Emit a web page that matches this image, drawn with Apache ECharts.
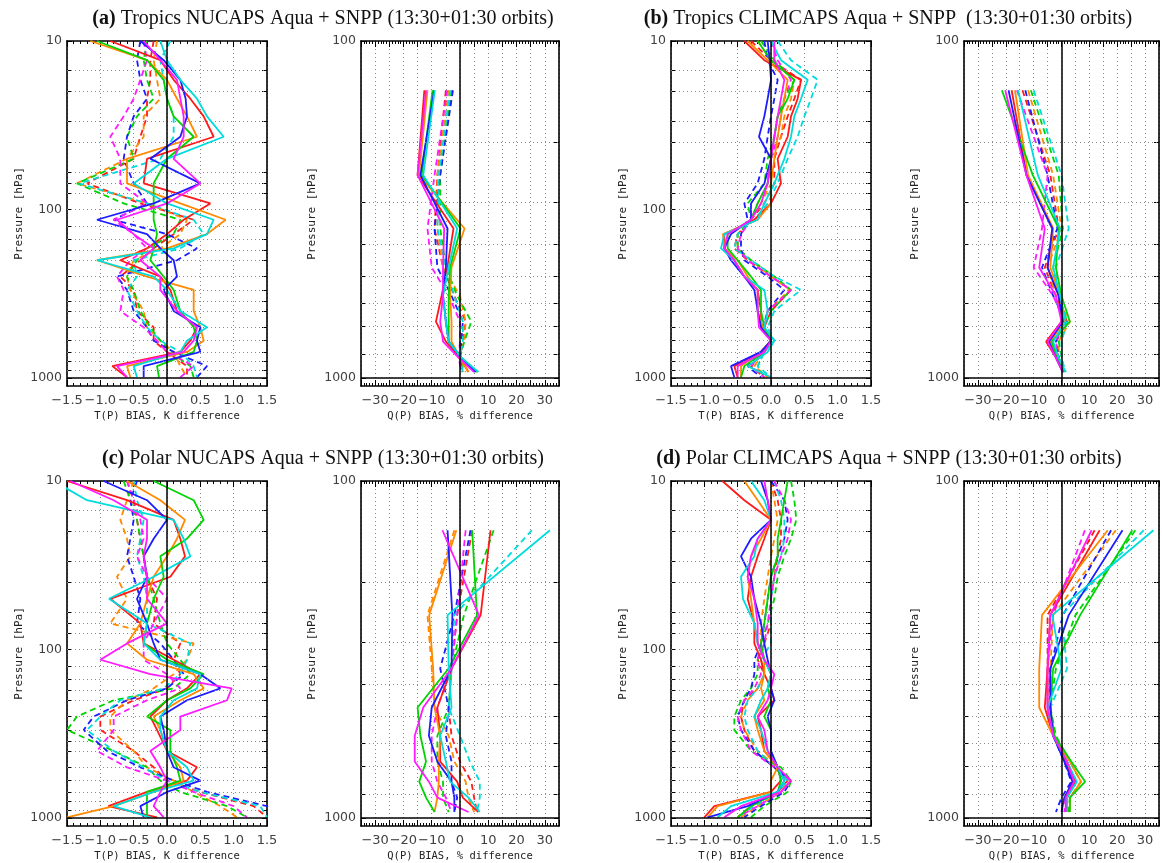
<!DOCTYPE html>
<html><head><meta charset="utf-8">
<script src="https://cdn.jsdelivr.net/npm/echarts@6/dist/echarts.min.js"></script>
<style>html,body{margin:0;padding:0;background:#fff}#c{width:1162px;height:863px}</style>
</head><body><div id="c"></div>
<script>
// ---------- pressure levels (hPa) ----------
const T_LEVELS = [10, 13, 17, 22, 28, 37, 50, 70, 92, 115, 140, 170, 200, 250, 300, 400, 500, 600, 700, 850, 990];
const Q_LEVELS = [140, 250, 360, 470, 570, 680, 780, 870, 960];
const T_GRID_LEVELS = [15, 20, 30, 40, 60, 70, 80, 100, 125, 150, 175, 200, 250, 300, 350, 400, 500, 600, 700, 800, 900];
const Q_GRID_LEVELS = [200, 300, 400, 500, 600, 700, 850];
const T_DECADES = [10, 100, 1000];
const Q_DECADES = [100, 1000];

const TITLES = [
  ['(a)', ' Tropics NUCAPS Aqua + SNPP (13:30+01:30 orbits)'],
  ['(b)', ' Tropics CLIMCAPS Aqua + SNPP  (13:30+01:30 orbits)'],
  ['(c)', ' Polar NUCAPS Aqua + SNPP (13:30+01:30 orbits)'],
  ['(d)', ' Polar CLIMCAPS Aqua + SNPP (13:30+01:30 orbits)']
];

// ---------- (a) Tropics NUCAPS : T bias (K) ----------
const aT_red     = [-0.85, -0.1, 0.1, 0.35, 0.55, 0.7, -0.3, -0.35, 0.65, 0.25, 0.0, -0.3, -0.7, -0.1, 0.05, 0.15, 0.45, 0.35, 0.2, -0.82, -0.6];
const aT_orange  = [-1.15, -0.3, 0.0, 0.15, 0.3, 0.45, -0.6, -0.6, 0.2, 0.88, 0.6, 0.0, -1.05, -0.3, 0.4, 0.4, 0.5, 0.55, 0.3, -0.6, -0.55];
const aT_green   = [-1.05, -0.3, -0.05, 0.0, 0.1, 0.4, 0.0, -0.2, -0.2, -0.2, -0.15, -0.2, -0.25, -0.05, 0.1, 0.2, 0.4, 0.45, 0.4, -0.15, -0.12];
const aT_blue    = [-0.4, -0.05, 0.2, 0.28, 0.3, 0.2, -0.25, 0.5, -0.2, -1.05, -0.3, -0.1, 0.1, 0.15, -0.05, 0.1, 0.5, 0.45, 0.5, -0.35, -0.35];
const aT_cyan    = [-0.1, 0.0, 0.2, 0.45, 0.6, 0.85, 0.0, -0.5, 0.0, 0.7, 0.6, 0.1, -1.05, -0.2, 0.0, 0.2, 0.6, 0.3, 0.2, -0.5, -0.45];
const aT_magenta = [-0.35, -0.1, 0.15, 0.2, 0.25, 0.25, 0.1, 0.5, 0.0, -0.75, -0.5, -0.2, -0.4, -0.1, -0.1, 0.15, 0.45, 0.4, 0.25, -0.75, -0.6];
const aT_red_d     = [-0.2, -0.25, -0.25, -0.3, -0.3, -0.4, -0.5, -1.2, -0.4, 0.4, 0.1, -0.2, -0.4, -0.7, -0.5, -0.45, -0.2, -0.2, 0.0, 0.3, 0.3];
const aT_orange_d  = [-0.15, -0.2, -0.15, -0.1, -0.35, -0.35, -0.6, -1.35, -0.3, 0.3, 0.2, -0.1, -0.5, -0.6, -0.55, -0.35, -0.3, -0.1, 0.1, 0.2, 0.3];
const aT_green_d   = [-0.3, -0.35, -0.3, -0.2, -0.45, -0.6, -0.5, -1.35, -0.65, 0.2, 0.1, -0.3, -0.45, -0.6, -0.5, -0.4, -0.25, -0.1, 0.05, 0.35, 0.4];
const aT_blue_d    = [-0.4, -0.45, -0.4, -0.3, -0.5, -0.6, -0.65, -0.5, -0.3, -0.8, 0.0, 0.45, 0.15, -0.75, -0.6, -0.5, -0.3, -0.2, 0.1, 0.6, 0.45];
const aT_cyan_d    = [0.05, -0.1, -0.05, 0.0, 0.1, 0.1, -0.1, -1.32, -0.3, 0.4, 0.55, 0.2, -0.5, -0.45, -0.6, -0.45, -0.3, -0.1, 0.2, 0.4, 0.45];
const aT_magenta_d = [-0.35, -0.3, -0.4, -0.5, -0.65, -0.85, -0.7, -0.7, -0.3, -0.8, -0.5, -0.3, -0.55, -0.75, -0.65, -0.7, -0.35, -0.15, 0.0, 0.4, 0.2];
// ---------- (a) Q bias (%) ----------
const aQ_red     = [-12.6, -15, -2.3, -4.5, -6.5, -8.5, -5, 0, 3];
const aQ_orange  = [-11.5, -14.5, 1.6, -3, -3.5, -3, -3, 0, 3];
const aQ_green   = [-9.7, -13.5, 0.2, -3.5, -4, -4, -4, 0.5, 6];
const aQ_blue    = [-9.1, -14, -4.4, -5, -6, -5, -4, 0.3, 5.5];
const aQ_cyan    = [-8.9, -13, -1, -4, -6, -5, -4, 0.5, 6.5];
const aQ_magenta = [-12, -15, -5.6, -6, -6, -7, -6, -0.5, 5];
const aQ_red_d     = [-5, -8, -9, -6, -2, 2, 1, 0, 1];
const aQ_orange_d  = [-4, -8, -8, -6, 0, 2, 1.5, -0.5, 2];
const aQ_green_d   = [-3, -7, -7, -5, -1, 4, 1.5, 0, 1];
const aQ_blue_d    = [-2.5, -7, -9, -8, -3, 1, 0.5, 0, 0.5];
const aQ_cyan_d    = [-3.5, -7.5, -8, -5, -2, 1, 1, 0, 1];
const aQ_magenta_d = [-4.5, -9, -11.5, -10, -4, 0, 0, -0.5, 0.5];

// ---------- (b) Tropics CLIMCAPS : T ----------
const bT_red     = [-0.4, -0.1, 0.45, 0.4, 0.3, 0.25, 0.1, 0.15, 0.0, -0.25, -0.7, -0.7, -0.55, -0.4, -0.2, -0.15, -0.15, 0.0, -0.15, -0.55, -0.5];
const bT_orange  = [-0.35, -0.05, 0.25, 0.2, 0.15, 0.1, 0.05, 0.0, 0.0, -0.2, -0.72, -0.7, -0.5, -0.35, -0.2, -0.2, -0.12, 0.0, -0.15, -0.45, -0.45];
const bT_green   = [-0.2, 0.0, 0.35, 0.25, 0.1, 0.05, 0.0, -0.05, -0.2, -0.3, -0.65, -0.65, -0.5, -0.3, -0.15, -0.15, -0.1, 0.0, -0.1, -0.4, -0.45];
const bT_blue    = [-0.05, -0.02, 0.0, -0.05, -0.1, -0.18, 0.0, -0.1, -0.3, -0.3, -0.6, -0.7, -0.6, -0.4, -0.25, -0.2, -0.15, 0.0, -0.15, -0.6, -0.55];
const bT_cyan    = [0.0, 0.15, 0.55, 0.45, 0.35, 0.3, 0.2, 0.05, -0.1, -0.2, -0.7, -0.75, -0.55, -0.4, -0.1, -0.05, -0.1, 0.05, -0.05, -0.35, 0.0];
const bT_magenta = [0.05, 0.05, 0.2, 0.15, 0.1, 0.05, 0.0, -0.05, -0.15, -0.3, -0.65, -0.7, -0.55, -0.4, -0.2, -0.2, -0.18, 0.0, -0.1, -0.5, -0.5];
const bT_red_d     = [-0.3, 0.0, 0.45, 0.35, 0.25, 0.15, 0.05, 0.05, -0.1, -0.3, -0.5, -0.55, -0.35, 0.0, 0.3, 0.0, -0.1, 0.0, -0.1, -0.3, -0.1];
const bT_orange_d  = [-0.2, 0.0, 0.35, 0.3, 0.2, 0.15, 0.0, 0.0, -0.15, -0.3, -0.5, -0.5, -0.3, 0.0, 0.28, -0.05, -0.1, 0.0, -0.1, -0.25, -0.05];
const bT_green_d   = [-0.15, 0.05, 0.35, 0.2, 0.1, 0.05, -0.05, -0.1, -0.35, -0.3, -0.5, -0.5, -0.3, 0.05, 0.3, 0.0, -0.1, 0.0, -0.1, -0.2, -0.1];
const bT_blue_d    = [-0.1, -0.05, 0.1, 0.05, 0.0, -0.05, -0.1, -0.2, -0.4, -0.35, -0.45, -0.45, -0.4, -0.05, 0.2, -0.05, -0.12, 0.0, -0.15, -0.35, -0.15];
const bT_cyan_d    = [0.1, 0.3, 0.7, 0.6, 0.5, 0.4, 0.25, 0.1, -0.05, -0.25, -0.5, -0.55, -0.3, 0.05, 0.45, 0.05, -0.05, 0.05, -0.1, -0.2, 0.0];
const bT_magenta_d = [0.0, 0.1, 0.3, 0.2, 0.15, 0.1, 0.0, -0.05, -0.2, -0.3, -0.45, -0.5, -0.35, 0.0, 0.3, -0.05, -0.1, 0.0, -0.12, -0.3, -0.1];
// ---------- (b) Q ----------
const bQ_red     = [-17.9, -12.5, -3.3, -5, -1, 0, -5.5, -2, 0.5];
const bQ_orange  = [-16.7, -12, -3, -4, -0.5, 1, -4, -2, 1];
const bQ_green   = [-21.4, -10.3, -1, -2, 0, 3, -3.5, -1.5, 1];
const bQ_blue    = [-19, -12.6, -3.3, -5, -1, 0.5, -4.5, -2, 0.5];
const bQ_cyan    = [-15.6, -8.5, -0.5, -3, -0.5, 1.5, -3, -1, 1.5];
const bQ_magenta = [-20.2, -12.6, -6, -8, -2, 0, -5, -2, 0.5];
const bQ_red_d     = [-14, -4, -1, -6, -2, 2, -2, -1, 0.5];
const bQ_orange_d  = [-12, -3, 0, -5, -2, 3, -1, -1, 1];
const bQ_green_d   = [-11, -1, 0.5, -3, -1, 2, -1, 0, 1];
const bQ_blue_d    = [-13, -5, -1.5, -7, -3, 1.5, -2, -1, 0.5];
const bQ_cyan_d    = [-10, 0, 2.6, -2, -1, 2, 0, 0, 1.5];
const bQ_magenta_d = [-16, -5, -7, -10, -3, 1, -2, -1, 0.5];

// ---------- (c) Polar NUCAPS : T ----------
const cT_red     = [-1.5, -0.6, 0.1, 0.2, 0.27, 0.05, -0.85, -0.4, -0.35, 0.1, 0.5, 0.3, 0.0, -0.25, -0.15, 0.0, 0.45, 0.3, -0.3, -0.88, -0.15];
const cT_orange  = [-0.6, -0.1, 0.27, 0.15, 0.0, -0.2, -0.3, -0.4, -0.6, -0.3, 0.4, 0.55, 0.2, -0.2, -0.1, 0.0, 0.2, 0.25, -0.2, -0.8, -1.5];
const cT_green   = [-0.2, 0.4, 0.55, 0.3, -0.1, -0.05, -0.2, -0.3, -0.35, 0.0, 0.55, 0.35, 0.0, -0.3, 0.05, 0.05, 0.15, 0.2, -0.3, -0.3, -0.3];
const cT_blue    = [-0.95, -0.3, 0.0, -0.2, -0.35, -0.3, -0.45, -0.3, -0.2, -0.1, 0.5, 0.8, 0.3, -0.1, -0.05, 0.0, 0.1, 0.5, 0.0, -0.4, -0.35];
const cT_cyan    = [-1.7, -1.2, 0.1, 0.25, 0.35, -0.2, -0.87, -0.3, -0.35, -0.1, 0.5, 0.45, 0.1, -0.1, -0.1, 0.0, 0.3, 0.4, -0.2, -0.8, -0.25];
const cT_magenta = [-1.45, -0.8, -0.3, -0.3, -0.35, -0.3, -0.3, 0.0, -0.6, -1.0, -0.25, 0.97, 0.9, 0.2, 0.2, -0.25, -0.1, 0.0, -0.1, -0.2, -0.05];
const cT_red_d     = [-0.6, -0.5, -0.45, -0.4, -0.35, -0.3, -0.15, -0.2, 0.2, 0.1, 0.2, 0.0, -0.5, -1.0, -1.0, -0.5, -0.2, 0.0, 0.5, 1.3, 1.5];
const cT_orange_d  = [-0.5, -0.6, -0.7, -0.6, -0.55, -0.75, -0.6, -0.85, 0.4, 0.3, 0.1, -0.2, -0.6, -0.85, -0.85, -0.5, -0.3, 0.1, 0.4, 0.8, 1.05];
const cT_green_d   = [-0.65, -0.55, -0.45, -0.4, -0.35, -0.3, -0.2, -0.1, 0.0, 0.2, 0.35, 0.1, -0.8, -1.35, -1.5, -0.8, -0.3, -0.1, 0.2, 0.9, 1.2];
const cT_blue_d    = [-0.45, -0.55, -0.5, -0.55, -0.6, -0.5, -0.4, -0.45, -0.1, 0.1, 0.25, 0.0, -0.6, -1.1, -1.25, -0.9, -0.4, 0.1, 0.6, 1.5, 1.6];
const cT_cyan_d    = [-0.5, -0.45, -0.35, -0.4, -0.45, -0.35, -0.3, -0.3, 0.35, 0.3, 0.2, -0.05, -0.7, -1.0, -1.2, -0.8, -0.35, 0.0, 0.5, 1.4, 1.5];
const cT_magenta_d = [-0.6, -0.5, -0.4, -0.35, -0.45, -0.3, 0.0, -0.2, -0.35, -0.35, 0.0, 0.2, -0.3, -0.8, -0.8, -1.05, -0.6, 0.0, 0.4, 1.0, 1.2];
// ---------- (c) Q ----------
const cQ_red     = [10.8, 7.3, -3, -8, -7, -7, -1, 1, 6.5];
const cQ_orange  = [-1.3, -10.9, -9.5, -9, -7, -7.5, -7.5, -8, -9];
const cQ_green   = [4.3, 6, -4, -15, -14, -12, -14.4, -12, -9];
const cQ_blue    = [-4.4, -2.7, -3, -10, -11, -8, -3, -2, -2];
const cQ_cyan    = [31.8, -4.4, -4, -3, -7, -5, -3.5, 3, 7];
const cQ_magenta = [-6.2, 6.7, -3, -13, -16, -16, -11, -8, 3];
const cQ_red_d     = [4.3, -1, -3, -4, -3, 0, 4, 5, 6];
const cQ_orange_d  = [-2, -11.5, -10, -9, -4, -2, 2, 3, 5];
const cQ_green_d   = [11.9, 1.4, -3, -4, -8, -8, -6, -6, -4];
const cQ_blue_d    = [3.7, -2, -7, -4, -5, -3, -3, -1, -2];
const cQ_cyan_d    = [25.4, -2, -3, -4, 0, 3.5, 7, 7, 6];
const cQ_magenta_d = [2, -1, -3, -8, -10, -10, -8, -5, -3];

// ---------- (d) Polar CLIMCAPS : T ----------
const dT_red     = [-0.73, -0.4, 0.0, -0.1, -0.2, -0.3, -0.35, -0.25, -0.25, -0.15, -0.1, 0.0, 0.05, -0.2, -0.15, -0.1, 0.1, 0.15, 0.0, -0.85, -1.0];
const dT_orange  = [-0.4, -0.2, 0.0, -0.15, -0.3, -0.35, -0.3, -0.25, -0.2, -0.1, -0.1, -0.15, -0.1, -0.25, -0.2, -0.1, 0.1, 0.0, 0.0, -0.8, -0.95];
const dT_green   = [0.25, 0.2, 0.15, 0.1, 0.1, 0.0, -0.05, -0.1, -0.15, -0.1, 0.0, -0.05, 0.0, -0.1, 0.0, 0.0, 0.1, 0.15, 0.1, -0.3, -0.5];
const dT_blue    = [-0.15, -0.05, 0.0, -0.3, -0.45, -0.3, -0.25, -0.15, -0.1, -0.05, 0.0, 0.0, 0.05, -0.05, 0.0, 0.0, 0.1, 0.2, 0.1, -0.35, -0.95];
const dT_cyan    = [-0.3, -0.1, 0.0, -0.2, -0.25, -0.45, -0.42, -0.25, -0.2, -0.1, 0.0, -0.05, -0.15, -0.25, -0.15, -0.05, 0.1, 0.2, 0.1, -0.6, -0.8];
const dT_magenta = [-0.1, -0.05, 0.0, -0.2, -0.3, -0.35, -0.25, -0.2, -0.2, -0.1, 0.05, 0.0, -0.05, -0.2, -0.1, -0.05, 0.1, 0.3, 0.15, -0.45, -0.7];
const dT_red_d     = [0.0, 0.1, 0.15, 0.15, 0.1, 0.05, 0.0, 0.0, -0.1, -0.2, -0.1, -0.2, -0.4, -0.45, -0.4, -0.25, 0.05, 0.25, 0.1, -0.3, -0.5];
const dT_orange_d  = [0.0, 0.05, 0.1, 0.05, 0.0, -0.05, -0.1, -0.15, -0.15, -0.15, -0.1, -0.2, -0.35, -0.45, -0.4, -0.2, 0.1, 0.25, 0.15, -0.2, -0.45];
const dT_green_d   = [0.3, 0.35, 0.38, 0.3, 0.2, 0.1, 0.05, -0.05, -0.15, -0.2, -0.2, -0.3, -0.45, -0.55, -0.55, -0.3, 0.15, 0.3, 0.25, -0.1, -0.3];
const dT_blue_d    = [0.0, 0.2, 0.25, 0.2, 0.1, 0.0, -0.05, -0.1, -0.15, -0.25, -0.25, -0.3, -0.4, -0.5, -0.45, -0.25, 0.05, 0.3, 0.2, -0.15, -0.4];
const dT_cyan_d    = [0.05, 0.15, 0.2, 0.2, 0.15, 0.05, 0.0, 0.0, 0.0, -0.15, -0.1, -0.2, -0.35, -0.4, -0.35, -0.2, 0.05, 0.25, 0.1, -0.25, -0.5];
const dT_magenta_d = [0.05, 0.2, 0.3, 0.25, 0.15, 0.05, 0.0, -0.05, -0.1, -0.2, -0.15, -0.25, -0.4, -0.5, -0.45, -0.3, 0.05, 0.3, 0.15, -0.2, -0.5];
// ---------- (d) Q ----------
const dQ_red     = [13.7, -4, -5, -6, -3, 2, 5, 2, 2];
const dQ_orange  = [16.6, -7, -8, -8, -3, 3, 7, 3, 3];
const dQ_green   = [25.4, 6.7, -3, -4, -2.5, 3.5, 8.5, 3, 3];
const dQ_blue    = [21.9, 2.6, -4, -4, -3, 1, 4, 1, 0];
const dQ_cyan    = [33, -3.3, 0, -5, -3, 2, 5.5, 2, 2];
const dQ_magenta = [10.8, -4, -5, -5, -3, 2, 4.5, 1.5, 1.5];
const dQ_red_d     = [11.9, -5, -5, -5, -3, 1.5, 4, 2, 1.5];
const dQ_orange_d  = [19.5, -3, -4, -5, -3, 2, 5, 2, 2];
const dQ_green_d   = [26.5, 5, -2, -4, -2, 3, 7, 3, 2.5];
const dQ_blue_d    = [17.8, 0.5, -4, -4, -3, 1, 3.5, 0, -2];
const dQ_cyan_d    = [29.5, 0, 2, -4, -3, 2, 5, 2, 1.5];
const dQ_magenta_d = [8.4, -3, -5, -5, -3, 1.5, 4, 1.5, 1];

// ---------- styling / layout ----------
const COLORS = ['#ff1a1a', '#ff8a00', '#00d400', '#1c1cff', '#00dcdc', '#ff1aff'];
const PANELS = [
  { kind: 'T', box: [67, 41], solid: [aT_red, aT_orange, aT_green, aT_blue, aT_cyan, aT_magenta], dashed: [aT_red_d, aT_orange_d, aT_green_d, aT_blue_d, aT_cyan_d, aT_magenta_d] },
  { kind: 'Q', box: [361, 41], solid: [aQ_red, aQ_orange, aQ_green, aQ_blue, aQ_cyan, aQ_magenta], dashed: [aQ_red_d, aQ_orange_d, aQ_green_d, aQ_blue_d, aQ_cyan_d, aQ_magenta_d] },
  { kind: 'T', box: [671, 41], solid: [bT_red, bT_orange, bT_green, bT_blue, bT_cyan, bT_magenta], dashed: [bT_red_d, bT_orange_d, bT_green_d, bT_blue_d, bT_cyan_d, bT_magenta_d] },
  { kind: 'Q', box: [964, 41], solid: [bQ_red, bQ_orange, bQ_green, bQ_blue, bQ_cyan, bQ_magenta], dashed: [bQ_red_d, bQ_orange_d, bQ_green_d, bQ_blue_d, bQ_cyan_d, bQ_magenta_d] },
  { kind: 'T', box: [67, 481], solid: [cT_red, cT_orange, cT_green, cT_blue, cT_cyan, cT_magenta], dashed: [cT_red_d, cT_orange_d, cT_green_d, cT_blue_d, cT_cyan_d, cT_magenta_d] },
  { kind: 'Q', box: [361, 481], solid: [cQ_red, cQ_orange, cQ_green, cQ_blue, cQ_cyan, cQ_magenta], dashed: [cQ_red_d, cQ_orange_d, cQ_green_d, cQ_blue_d, cQ_cyan_d, cQ_magenta_d] },
  { kind: 'T', box: [671, 481], solid: [dT_red, dT_orange, dT_green, dT_blue, dT_cyan, dT_magenta], dashed: [dT_red_d, dT_orange_d, dT_green_d, dT_blue_d, dT_cyan_d, dT_magenta_d] },
  { kind: 'Q', box: [964, 481], solid: [dQ_red, dQ_orange, dQ_green, dQ_blue, dQ_cyan, dQ_magenta], dashed: [dQ_red_d, dQ_orange_d, dQ_green_d, dQ_blue_d, dQ_cyan_d, dQ_magenta_d] }
];
const TITLE_POS = [[323, 9], [888, 9], [323, 449], [889, 449]];

const MINUS = '\u2212';
const LABEL_FONT = 'DejaVu Sans';
const NAME_FONT = 'DejaVu Sans Mono';
const fmtT = v => { const r = Math.round(v * 10) / 10; return (r < 0 ? MINUS : '') + Math.abs(r).toFixed(1); };
const fmtQ = v => { const r = Math.round(v); if (r % 10 !== 0 || Math.abs(r) > 30) return ''; return (r < 0 ? MINUS : '') + Math.abs(r); };
const fmtP = v => { const r = Math.round(v); return [10, 100, 1000].indexOf(r) >= 0 ? String(r) : ''; };

const grid = [], xAxis = [], yAxis = [], series = [], title = [];

PANELS.forEach((p, i) => {
  const isT = p.kind === 'T';
  const width = isT ? 200 : 198;
  grid.push({ left: p.box[0], top: p.box[1], width: width, height: 345, containLabel: false });
  const xCommon = {
    type: 'value', gridIndex: i,
    min: isT ? -1.5 : -35, max: isT ? 1.5 : 35, interval: isT ? 0.5 : 5,
    axisLine: { show: true, onZero: false, lineStyle: { color: '#000', width: 1.6 } },
    axisTick: { show: true, inside: true, length: 6, lineStyle: { color: '#000', width: 1 } },
    minorTick: { show: true, splitNumber: 5, length: 3, lineStyle: { color: '#000', width: 1 } }
  };
  xAxis.push(Object.assign({}, xCommon, {
    position: 'bottom',
    axisLabel: { show: true, formatter: isT ? fmtT : fmtQ, color: '#404040', fontFamily: LABEL_FONT, fontSize: 13, margin: 8, showMinLabel: true, showMaxLabel: true },
    splitLine: { show: true, lineStyle: { color: '#8a8a8a', width: 1, type: [1, 3] } },
    name: isT ? 'T(P) BIAS, K difference' : 'Q(P) BIAS, % difference',
    nameLocation: 'middle', nameGap: 25,
    nameTextStyle: { fontFamily: NAME_FONT, fontSize: 10.5, color: '#222' }
  }));
  xAxis.push(Object.assign({}, xCommon, {
    position: 'top', axisLabel: { show: false }, splitLine: { show: false }
  }));
  const decades = isT ? T_DECADES : Q_DECADES;
  const tickVals = decades.concat(isT ? T_GRID_LEVELS : Q_GRID_LEVELS);
  const yCommon = {
    type: 'log', logBase: 10, gridIndex: i, inverse: true,
    min: isT ? 10 : 100, max: isT ? 1115 : 1056,
    axisLine: { show: true, onZero: false, lineStyle: { color: '#000', width: 1.6 } },
    axisTick: { show: true, inside: true, length: 5, customValues: tickVals, lineStyle: { color: '#000', width: 1 } },
    splitLine: { show: false }, minorTick: { show: false }
  };
  yAxis.push(Object.assign({}, yCommon, {
    position: 'left',
    axisLabel: { show: true, customValues: decades, formatter: fmtP, color: '#404040', fontFamily: LABEL_FONT, fontSize: 12.5, margin: 5 },
    name: 'Pressure [hPa]', nameLocation: 'middle', nameGap: isT ? 42 : 43,
    nameTextStyle: { fontFamily: NAME_FONT, fontSize: 11, color: '#222' }
  }));
  yAxis.push(Object.assign({}, yCommon, { position: 'right', axisLabel: { show: false } }));

  // frame: dotted pressure grid lines, zero line, 1000 hPa line
  const gl = isT ? T_GRID_LEVELS : Q_GRID_LEVELS;
  const mlData = gl.map(v => ({ yAxis: v, lineStyle: { color: '#8a8a8a', width: 1, type: [1, 3] } }));
  mlData.push({ xAxis: 0, lineStyle: { color: '#000', width: 1.5, type: 'solid' } });
  mlData.push({ yAxis: 1000, lineStyle: { color: '#000', width: 1.5, type: 'solid' } });
  series.push({
    type: 'line', xAxisIndex: 2 * i, yAxisIndex: 2 * i, data: [], z: 2, silent: true, animation: false,
    markLine: { silent: true, symbol: ['none', 'none'], label: { show: false }, animation: false, data: mlData }
  });

  const levels = isT ? T_LEVELS : Q_LEVELS;
  [['dashed', p.dashed], ['solid', p.solid]].forEach(([style, arrs]) => {
    arrs.forEach((vals, j) => {
      series.push({
        type: 'line', xAxisIndex: 2 * i, yAxisIndex: 2 * i,
        data: vals.map((v, k) => [v, levels[k]]),
        symbol: 'none', silent: true, animation: false, clip: true,
        z: style === 'dashed' ? 3 : 4,
        lineStyle: { color: COLORS[j], width: 1.8, type: style === 'dashed' ? [6, 4] : 'solid' }
      });
    });
  });
});

TITLES.forEach((t, k) => {
  title.push({
    text: '{b|' + t[0] + '}' + t[1],
    left: TITLE_POS[k][0], top: TITLE_POS[k][1], padding: 0,
    textAlign: 'center', textVerticalAlign: 'top',
    textStyle: {
      fontFamily: 'Liberation Serif', fontSize: 20, fontWeight: 'normal', color: '#111',
      rich: { b: { fontFamily: 'Liberation Serif', fontSize: 20, fontWeight: 'bold', color: '#111' } }
    }
  });
});

const chart = echarts.init(document.getElementById('c'), null, { renderer: 'canvas', width: 1162, height: 863 });
chart.setOption({ animation: false, backgroundColor: '#fff', title, grid, xAxis, yAxis, series });
</script>
</body></html>
